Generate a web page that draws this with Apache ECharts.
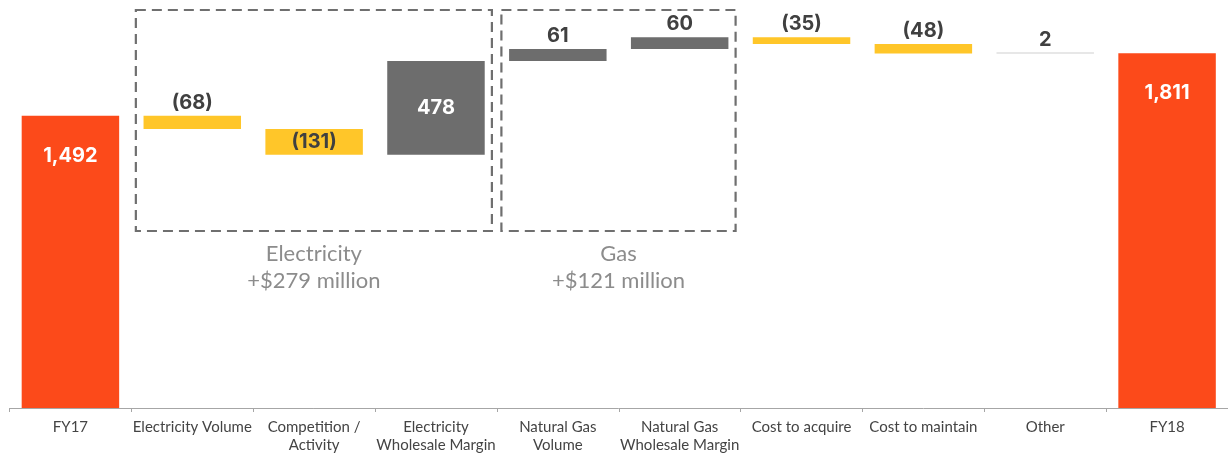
<!DOCTYPE html>
<html><head><meta charset="utf-8">
<script src="https://cdn.jsdelivr.net/npm/echarts@6/dist/echarts.min.js"></script>
<style>html,body{margin:0;padding:0;background:#fff}#c{width:1228px;height:454px}</style>
</head><body><div id="c"></div>
<script>
const categories = ['FY17', 'Electricity Volume', 'Competition /\nActivity', 'Electricity\nWholesale Margin',
  'Natural Gas\nVolume', 'Natural Gas\nWholesale Margin', 'Cost to acquire', 'Cost to maintain', 'Other', 'FY18'];
const deltas = [1492, -68, -131, 478, 61, 60, -35, -48, 2, 1811];
const valueLabels = ['1,492', '(68)', '(131)', '478', '61', '60', '(35)', '(48)', '2', '1,811'];
const groupTitles = ['Electricity', 'Gas'];
const groupNotes = ['+$279 million', '+$121 million'];
const groupFrom = [1, 4];
const groupTo = [3, 5];

const ORANGE = '#FC4A1A', YELLOW = '#FFC629', GREY = '#6D6D6D', FAINT = '#d0d0d0';
const isTotal = i => i === 0 || i === categories.length - 1;

let running = 0;
const base = [], bars = [];
deltas.forEach((d, i) => {
  let b, h;
  if (isTotal(i)) { b = 0; h = d; running = d; }
  else { const next = running + d; b = Math.min(running, next); h = Math.abs(d); running = next; }
  base.push(b);
  let color = isTotal(i) ? ORANGE : (Math.abs(d) < 5 ? FAINT : (d < 0 ? YELLOW : GREY));
  let label;
  if (isTotal(i)) {
    label = { show: true, position: 'insideTop', distance: 30, color: '#fff', fontSize: 20 };
  } else if (Math.abs(d) >= 100) {
    label = { show: true, position: 'inside', color: color === GREY ? '#fff' : '#404040', fontSize: 20 };
  } else {
    label = { show: true, position: 'top', distance: 3, color: '#404040', fontSize: 20 };
  }
  label.formatter = valueLabels[i];
  bars.push({ value: h, itemStyle: { color }, label });
});

const chart = echarts.init(document.getElementById('c'), null, { renderer: 'canvas' });
chart.setOption({
  animation: false,
  backgroundColor: '#fff',
  grid: { left: 9.5, width: 1223, top: 16.1, bottom: 44.5, containLabel: false },
  xAxis: {
    type: 'category', data: categories,
    axisLine: { lineStyle: { color: '#a6a6a6', width: 1 } },
    axisTick: { show: true, length: 4, lineStyle: { color: '#a6a6a6' } },
    axisLabel: { color: '#444', fontFamily: 'Lato', fontSize: 15, lineHeight: 18, margin: 10, interval: 0 }
  },
  yAxis: { type: 'value', min: 0, max: 2000, show: false, splitLine: { show: false } },
  series: [
    { type: 'bar', stack: 'w', data: base, itemStyle: { color: 'transparent' }, barWidth: '80%', silent: true },
    { type: 'bar', stack: 'w', data: bars, barWidth: '80%', barMinHeight: 1,
      label: { fontFamily: 'Inter', fontWeight: 'bold' } }
  ]
});

const c0 = chart.convertToPixel({ xAxisIndex: 0 }, 0);
const c1 = chart.convertToPixel({ xAxisIndex: 0 }, 1);
const band = c1 - c0;
const graphics = [];
groupTitles.forEach((t, g) => {
  const left = chart.convertToPixel({ xAxisIndex: 0 }, groupFrom[g]) - band / 2 + 4.5;
  const right = chart.convertToPixel({ xAxisIndex: 0 }, groupTo[g]) + band / 2 - 5;
  graphics.push({
    type: 'rect', shape: { x: left, y: 10, width: right - left, height: 221 },
    style: { fill: 'none', stroke: '#6f6f6f', lineWidth: 2.2, lineDash: [10, 6] }, z: 10
  });
  graphics.push({
    type: 'text', x: (left + right) / 2, y: 267,
    style: { text: t + '\n' + groupNotes[g], fill: '#8c8c8c', font: '22px Lato', lineHeight: 27,
      align: 'center', verticalAlign: 'middle' }, z: 10
  });
});
chart.setOption({ graphic: graphics });
</script></body></html>
